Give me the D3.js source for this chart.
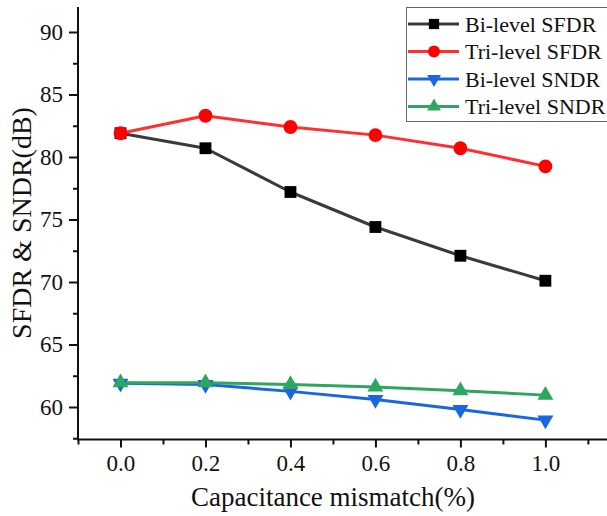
<!DOCTYPE html>
<html>
<head>
<meta charset="utf-8">
<script src="https://cdn.jsdelivr.net/npm/d3@7"></script>
<style>
  html, body { margin: 0; padding: 0; background: #fff; }
  svg { display: block; }
  text { font-family: "Liberation Serif", "Times New Roman", serif; fill: #111; }
</style>
</head>
<body>
<svg id="chart" width="607" height="516"></svg>
<script>
// Capacitance mismatch (%) on the x axis
const mismatch = [0.0, 0.2, 0.4, 0.6, 0.8, 1.0];

// Dynamic performance in dB for each architecture
const biSFDR  = [81.9, 80.7, 77.2, 74.4, 72.1, 70.1];
const triSFDR = [81.9, 83.3, 82.4, 81.75, 80.7, 79.25];
const biSNDR  = [61.9, 61.8, 61.25, 60.6, 59.8, 58.95];
const triSNDR = [61.95, 61.94, 61.8, 61.6, 61.3, 60.95];

const seriesNames = ["Bi-level SFDR", "Tri-level SFDR", "Bi-level SNDR", "Tri-level SNDR"];

const xTicks = [0.0, 0.2, 0.4, 0.6, 0.8, 1.0];
const yTicks = [60, 65, 70, 75, 80, 85, 90];

const series = [
  { name: seriesNames[0], values: biSFDR,  line: "#3a3a3a", fill: "#000000", symbol: d3.symbolSquare,   size: 140, rot: 0 },
  { name: seriesNames[1], values: triSFDR, line: "#ff3030", fill: "#ff0000", symbol: d3.symbolCircle,   size: 150, rot: 0 },
  { name: seriesNames[2], values: biSNDR,  line: "#1a66e0", fill: "#1a66e0", symbol: d3.symbolTriangle, size: 110, rot: 180 },
  { name: seriesNames[3], values: triSNDR, line: "#2ea65f", fill: "#2ea65f", symbol: d3.symbolTriangle, size: 110, rot: 0 }
];

const svg = d3.select("#chart");
const plotLeft = 78, plotBottom = 439.5, plotTop = 7, plotRight = 607;

const x = d3.scaleLinear().domain([-0.1, 1.145]).range([plotLeft, plotRight]);
const y = d3.scaleLinear().domain([57.4, 92]).range([plotBottom, plotTop]);

// Series lines
const line = d3.line().x((d, i) => x(mismatch[i])).y(d => y(d));
const gSeries = svg.append("g");
series.forEach(s => {
  gSeries.append("path")
    .datum(s.values)
    .attr("d", line)
    .attr("fill", "none")
    .attr("stroke", s.line)
    .attr("stroke-width", 3)
    .attr("stroke-linejoin", "round");
});
series.forEach(s => {
  gSeries.selectAll(null)
    .data(s.values)
    .join("path")
    .attr("d", d3.symbol().type(s.symbol).size(s.size))
    .attr("transform", (d, i) => `translate(${x(mismatch[i])},${y(d)}) rotate(${s.rot})`)
    .attr("fill", s.fill);
});

// X axis with minor ticks
const xMinor = d3.range(-0.1, 1.15, 0.1).map(v => +v.toFixed(1)).filter(v => !xTicks.includes(v));
const gx = svg.append("g").attr("transform", `translate(0,${plotBottom})`);
gx.append("g").call(d3.axisBottom(x).tickValues(xMinor).tickSize(5).tickFormat(""));
gx.append("g").call(d3.axisBottom(x).tickValues(xTicks).tickSize(8).tickPadding(7).tickFormat(d3.format(".1f")));
gx.selectAll(".domain").remove();
gx.append("line").attr("x1", plotLeft - 1).attr("x2", plotRight).attr("stroke", "#111").attr("stroke-width", 2);

// Y axis with minor ticks
const yMinor = d3.range(57.5, 92, 2.5).filter(v => !yTicks.includes(v));
const gy = svg.append("g").attr("transform", `translate(${plotLeft},0)`);
gy.append("g").call(d3.axisLeft(y).tickValues(yMinor).tickSize(5).tickFormat(""));
gy.append("g").call(d3.axisLeft(y).tickValues(yTicks).tickSize(9).tickPadding(6).tickFormat(d3.format("d")));
gy.selectAll(".domain").remove();
gy.append("line").attr("y1", plotTop).attr("y2", plotBottom + 1).attr("stroke", "#111").attr("stroke-width", 2);

svg.selectAll(".tick line").attr("stroke", "#111").attr("stroke-width", 2);
svg.selectAll(".tick text").style("font-size", "23px").attr("fill", "#111");

// Axis titles
svg.append("text")
  .attr("x", 333).attr("y", 506)
  .attr("text-anchor", "middle")
  .style("font-size", "27px")
  .text("Capacitance mismatch(%)");

svg.append("text")
  .attr("transform", "translate(31,223) rotate(-90)")
  .attr("text-anchor", "middle")
  .style("font-size", "28px")
  .text("SFDR & SNDR(dB)");

// Legend
const lg = svg.append("g");
lg.append("rect")
  .attr("x", 406.5).attr("y", 7.5).attr("width", 205).attr("height", 114)
  .attr("fill", "#fff").attr("stroke", "#666").attr("stroke-width", 1);
series.forEach((s, i) => {
  const cy = 24 + i * 27.5;
  lg.append("line").attr("x1", 408).attr("x2", 459).attr("y1", cy).attr("y2", cy)
    .attr("stroke", s.line).attr("stroke-width", 3);
  lg.append("path")
    .attr("d", d3.symbol().type(s.symbol).size(s.size * 0.75))
    .attr("transform", `translate(434,${cy}) rotate(${s.rot})`)
    .attr("fill", s.fill);
  lg.append("text").attr("x", 465).attr("y", cy + 7.5)
    .style("font-size", "22px").text(s.name);
});
</script>
</body>
</html>
